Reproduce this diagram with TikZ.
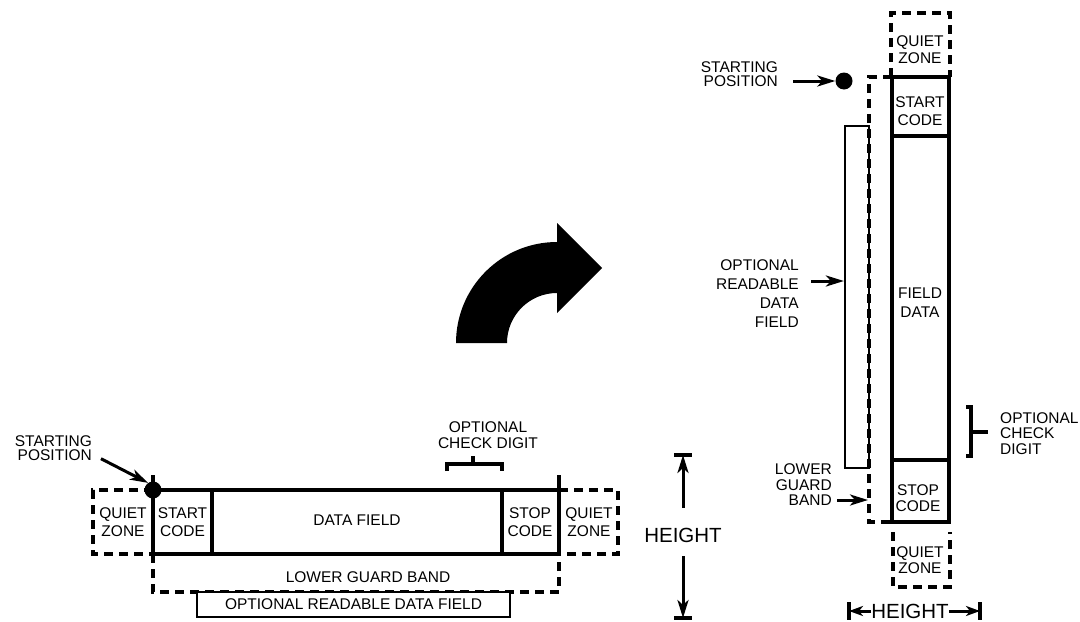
\documentclass[tikz,border=0pt]{standalone}
\usepackage{fontspec}
\setmainfont{Liberation Sans}
\usetikzlibrary{arrows.meta}

\begin{document}
\begin{tikzpicture}[x=1pt, y=-1pt, >={Stealth[length=18pt,width=11pt,inset=5pt]},
  lbl/.style={font=\fontsize{15.5}{18}\selectfont, inner sep=0pt, align=center},
  hgt/.style={font=\fontsize{20.5}{24}\selectfont, inner sep=0pt},
  bar/.style={line width=3.2pt},
  thinbox/.style={line width=2.2pt},
  qz/.style={line width=3.2pt, dash pattern=on 9pt off 6pt},
  ptr/.style={line width=3pt, ->},
  ptrs/.style={line width=3pt, -{Stealth[length=14pt,width=10pt,inset=4pt]}},
  dot/.style={circle, fill, inner sep=0pt, minimum size=17pt}]
  \fill[white] (0,0) rectangle (1080,621);

  % horizontal symbol
  \draw[qz] (153,490) -- (93,490) -- (93,554) -- (153,554);
  \draw[qz] (559,490) -- (618,490) -- (618,554) -- (559,554);
  \draw[qz] (153,554) -- (153,592) -- (559,592) -- (559,554);
  \draw[bar] (153,475) -- (153,490) (559,475) -- (559,490);
  \draw[bar] (153,490) rectangle (559,554) (212,490) -- (212,554) (502,490) -- (502,554);
  \draw[bar] (447,471) -- (447,464) -- (502,464) -- (502,471) (473,464) -- (473,456);
  \node[thinbox, draw, fill=white, minimum width=313pt, minimum height=25pt, inner sep=0pt,
        font=\fontsize{15.5}{18}\selectfont] (lord) at (353.5,604.5) {OPTIONAL READABLE DATA FIELD};
  \node[dot] (ldot) at (153,490) {};
  \node[lbl] (lqz) at (123,522) {QUIET\\ZONE};
  \node[lbl] (lstart) at (182.5,522) {START\\CODE};
  \node[lbl] (ldata) at (357,520) {DATA FIELD};
  \node[lbl] (lstop) at (530,522) {STOP\\CODE};
  \node[lbl] (lqz2) at (589,522) {QUIET\\ZONE};
  \node[lbl] (lgb) at (368,577) {LOWER GUARD BAND};
  \node[lbl, font=\fontsize{15.5}{16}\selectfont] (lcd) at (488,435) {OPTIONAL\\CHECK DIGIT};
  \node[lbl, align=right, anchor=east, font=\fontsize{15.5}{14}\selectfont] (lsp) at (92,448) {STARTING\\POSITION};
  \draw[ptr] ([xshift=9pt,yshift=2pt]lsp.south east) -- (ldot.125);

  \node[hgt] (lh) at (683,535) {HEIGHT};
  \coordinate (lhtop) at (683,455);
  \coordinate (lhbot) at (683,618);
  \draw[ptr] ([yshift=20pt]lh.north) -- (lhtop);
  \draw[ptr] ([yshift=-14pt]lh.south) -- (lhbot);
  \draw[bar] ([xshift=-9pt]lhtop) -- ([xshift=9pt]lhtop) ([xshift=-9pt]lhbot) -- ([xshift=9pt]lhbot);

  % turn arrow
  \fill (456,343) arc[start angle=180, end angle=270, radius=101] -- (557,223) -- (602,268)
    -- (557,313) -- (557,293) arc[start angle=270, end angle=180, radius=50] -- cycle;

  % vertical symbol
  \node[thinbox, draw, minimum width=24pt, minimum height=342pt, inner sep=0pt] (ropt) at (857,297) {};
  \draw[qz] (891,77) -- (891,13) -- (950,13) -- (950,77);
  \draw[qz] (892,77) -- (869,77) -- (869,522) -- (892,522);
  \draw[qz] (893,532) -- (893,587) -- (950,587) -- (950,532);
  \draw[bar] (892,77) rectangle (949,522) (892,136) -- (949,136) (892,460) -- (949,460);
  \draw[bar] (966,407) -- (971,407) -- (971,456) -- (966,456) (971,432) -- (988,432);
  \node[dot] (rdot) at (844,81) {};
  \node[lbl, font=\fontsize{15.5}{17}\selectfont] (rqz) at (920,50) {QUIET\\ZONE};
  \node[lbl] (rstart) at (920,111.5) {START\\CODE};
  \node[lbl, font=\fontsize{15.5}{19}\selectfont] (rdata) at (920,302.5) {FIELD\\DATA};
  \node[lbl, font=\fontsize{15.5}{16}\selectfont] (rstop) at (918,498) {STOP\\CODE};
  \node[lbl, font=\fontsize{15.5}{15.5}\selectfont] (rqz2) at (920,560) {QUIET\\ZONE};
  \node[lbl, align=right, anchor=east, font=\fontsize{15.5}{14}\selectfont] (rsp) at (778,74.5) {STARTING\\POSITION};
  \node[lbl, align=right, anchor=east, font=\fontsize{15.5}{19}\selectfont] (rord) at (799,293.5) {OPTIONAL\\READABLE\\DATA\\FIELD};
  \node[lbl, align=right, anchor=east, font=\fontsize{15.5}{15.5}\selectfont] (rgb) at (832,485) {LOWER\\GUARD\\BAND};
  \node[lbl, align=left, anchor=west, font=\fontsize{15.5}{15.5}\selectfont] (rcd) at (1000,433.5) {OPTIONAL\\CHECK\\DIGIT};
  \coordinate (rgbt) at (868,500);
  \draw[ptr] ([xshift=15pt]rsp.east |- rdot) -- (rdot);
  \draw[ptr] ([xshift=12pt]rord.east |- 0,281) -- (ropt.west |- 0,281);
  \draw[ptr] ([xshift=5pt]rgb.east |- rgbt) -- (rgbt);

  \node[hgt] (rh) at (910,611) {HEIGHT};
  \coordinate (rhl) at (849,611);
  \coordinate (rhr) at (980,611);
  \draw[ptrs] (rh.west) -- (rhl);
  \draw[ptrs] (rh.east) -- (rhr);
  \draw[bar] ([yshift=9pt]rhl) -- ([yshift=-9pt]rhl) ([yshift=9pt]rhr) -- ([yshift=-9pt]rhr);
\end{tikzpicture}
\end{document}
